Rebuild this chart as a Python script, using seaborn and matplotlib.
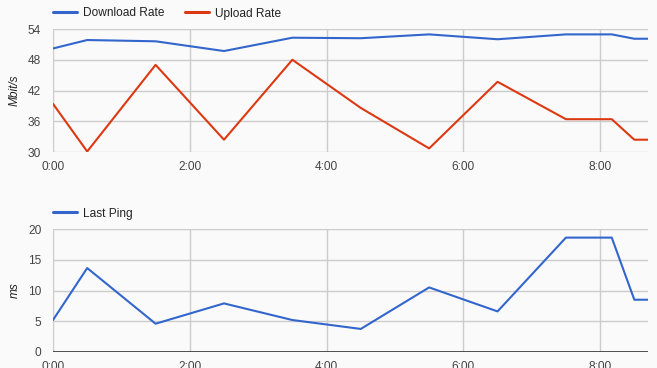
import matplotlib
matplotlib.use("Agg")
import matplotlib.pyplot as plt
import seaborn as sns
import pandas as pd

# time in hours since start
hours = [0, 0.5, 1.5, 2.5, 3.5, 4.5, 5.5, 6.5, 7.5, 8.17, 8.5, 8.7]
download = [50.2, 51.85, 51.6, 49.7, 52.3, 52.2, 52.95, 52.0, 52.95, 52.95, 52.1, 52.1]
upload = [39.4, 30.1, 47.0, 32.4, 48.0, 38.6, 30.7, 43.7, 36.4, 36.4, 32.4, 32.4]
ping = [5.2, 13.65, 4.6, 7.9, 5.2, 3.75, 10.5, 6.6, 18.6, 18.6, 8.5, 8.5]
xticks = [0, 2, 4, 6, 8]
xtick_labels = ["0:00", "2:00", "4:00", "6:00", "8:00"]
rate_ticks = [30, 36, 42, 48, 54]
ping_ticks = [0, 5, 10, 15, 20]

BLUE = "#3366cc"
RED = "#dc3912"
BG = "#fafafa"
GRID = "#cccccc"
TXT = "#444444"
FS = 8.6

sns.set_theme(style="white")
plt.rcParams["font.family"] = ["Liberation Sans", "DejaVu Sans"]
plt.rcParams["font.size"] = FS

W, H = 657, 368
fig = plt.figure(figsize=(W / 100, H / 100), dpi=100, facecolor=BG)

def px_axes(left, top, right, bottom):
    return fig.add_axes([left / W, 1 - bottom / H, (right - left) / W, (bottom - top) / H])

rates = pd.DataFrame({
    "hour": hours * 2,
    "value": download + upload,
    "series": ["Download Rate"] * len(hours) + ["Upload Rate"] * len(hours),
})
pings = pd.DataFrame({"hour": hours, "value": ping, "series": ["Last Ping"] * len(hours)})

def style(ax, yticks, ylabel, baseline):
    ax.set_facecolor(BG)
    ax.set_xlim(0, 8.7)
    ax.set_ylim(yticks[0], yticks[-1])
    ax.set_xticks(xticks)
    ax.set_xticklabels(xtick_labels)
    ax.set_yticks(yticks)
    ax.set_yticklabels([str(t) for t in yticks])
    ax.grid(True, color=GRID, linewidth=1)
    ax.set_axisbelow(True)
    for s in ax.spines.values():
        s.set_visible(False)
    ax.tick_params(axis="both", length=0, colors=TXT, labelsize=FS)
    ax.tick_params(axis="x", pad=6.5)
    ax.tick_params(axis="y", pad=8.5)
    ax.set_xlabel("")
    ax.set_ylabel(ylabel, style="italic", color="#222222", fontsize=FS, labelpad=5.5)
    if baseline:
        ax.axhline(yticks[0], color="#333333", linewidth=1.2, zorder=3)

AX_H = 123.0

ax1 = px_axes(53, 29, 648, 152)
sns.lineplot(data=rates, x="hour", y="value", hue="series", palette=[BLUE, RED],
             linewidth=1.5, ax=ax1, legend=False, sort=False)
style(ax1, rate_ticks, "Mbit/s", False)
h1 = [plt.Line2D([], [], color=BLUE, lw=2.2), plt.Line2D([], [], color=RED, lw=2.2)]
ax1.legend(h1, ["Download Rate", "Upload Rate"], loc="center left",
           bbox_to_anchor=(0, 1 + 15.5 / AX_H), ncol=2, frameon=False,
           handlelength=2.0, handletextpad=0.55, columnspacing=1.65,
           borderaxespad=0, borderpad=0, labelcolor="#222222", fontsize=FS)

ax2 = px_axes(53, 229, 648, 352)
sns.lineplot(data=pings, x="hour", y="value", hue="series", palette=[BLUE],
             linewidth=1.5, ax=ax2, legend=False, sort=False)
style(ax2, ping_ticks, "ms", True)
h2 = [plt.Line2D([], [], color=BLUE, lw=2.2)]
ax2.legend(h2, ["Last Ping"], loc="center left", bbox_to_anchor=(0, 1 + 15.5 / AX_H),
           frameon=False, handlelength=2.0, handletextpad=0.55,
           borderaxespad=0, borderpad=0, labelcolor="#222222", fontsize=FS)

fig.savefig("out.png", dpi=100, facecolor=BG)
